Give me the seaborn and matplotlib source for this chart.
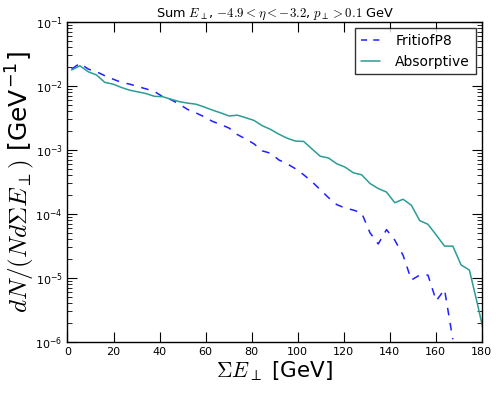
import numpy as np
import pandas as pd
import matplotlib
matplotlib.use('Agg')
import matplotlib.pyplot as plt
import seaborn as sns

# bin centres, 3.6 GeV wide
sum_et = [1.8 + 3.6 * k for k in range(51)]

absorptive = [0.0178, 0.0207, 0.0167, 0.0149, 0.0114, 0.0107, 0.0095, 0.0086, 0.0081, 0.0076,
              0.0069, 0.0068, 0.0062, 0.0057, 0.0054, 0.0052, 0.0047, 0.0042, 0.0038, 0.0034,
              0.0035, 0.0032, 0.0029, 0.0024, 0.0021, 0.00177, 0.00153, 0.00138, 0.00136, 0.00104,
              0.0008, 0.00075, 0.00061, 0.00054, 0.00044, 0.00041, 0.0003, 0.00025, 0.00022, 0.00015,
              0.00017, 0.000137, 7.9e-5, 6.9e-5, 4.7e-5, 3.15e-5, 3.15e-5, 1.6e-5, 1.33e-5, 3.8e-6,
              1.0e-6]

fritiof = [0.0184, 0.0226, 0.0184, 0.0167, 0.0145, 0.0128, 0.0114, 0.0107, 0.0098, 0.009,
           0.0082, 0.0068, 0.0061, 0.0052, 0.0043, 0.0038, 0.0033, 0.0028, 0.0025, 0.0022,
           0.00174, 0.00149, 0.00125, 0.00097, 0.00089, 0.0007, 0.00061, 0.00051, 0.00041, 0.00032,
           0.00024, 0.00018, 0.00014, 0.000124, 0.000115, 0.000104, 5.1e-5, 3.4e-5, 5.7e-5, 3.9e-5,
           2.26e-5, 9.3e-6, 1.11e-5, 1.11e-5, 4.4e-6, 6.6e-6, 1.1e-6]

df_abs = pd.DataFrame({'x': sum_et, 'y': absorptive})
df_fr = pd.DataFrame({'x': sum_et[:len(fritiof)], 'y': fritiof})

sns.set_style('ticks')
plt.rcParams['font.family'] = ['DejaVu Sans']
plt.rcParams['mathtext.fontset'] = 'cm'
plt.rcParams['text.color'] = 'black'
plt.rcParams['axes.labelcolor'] = 'black'
plt.rcParams['xtick.color'] = 'black'
plt.rcParams['ytick.color'] = 'black'

fig = plt.figure(figsize=(4.98, 3.93), dpi=100)
ax = fig.add_axes([0.1355, 0.1298, 0.832, 0.8142])

sns.lineplot(data=df_fr, x='x', y='y', ax=ax, color='#1f1fff', linestyle='--',
             linewidth=1.1, label='FritiofP8')
ax.lines[-1].set_dashes([5, 5])
sns.lineplot(data=df_abs, x='x', y='y', ax=ax, color='#2a9d94', linewidth=1.1,
             label='Absorptive')

ax.set_yscale('log')
ax.set_xlim(0, 180)
ax.set_ylim(1e-6, 1e-1)
ax.set_xticks(np.arange(0, 181, 20))

ax.tick_params(which='both', direction='in', top=True, right=True, labelsize=8)
ax.tick_params(which='major', length=7, width=0.8)
ax.tick_params(which='minor', length=3.5, width=0.6)
for s in ax.spines.values():
    s.set_linewidth(1.0)
    s.set_color('black')

ax.set_xlabel(r'$\Sigma E_{\perp}$ [GeV]', fontsize=15.5, labelpad=2)
ax.set_ylabel(r'$dN/(Nd\Sigma E_{\perp})$ [GeV$^{\mathregular{-1}}$]', fontsize=18, labelpad=-1)
ax.set_title(r'Sum $E_{\perp}$, $-4.9 < \eta < -3.2$, $p_{\perp} > 0.1$ GeV', fontsize=9.3, pad=3)

leg = ax.legend(loc='upper right', fontsize=10, frameon=True, fancybox=False,
                handlelength=1.4, handletextpad=1.1, borderaxespad=0.45)
leg.get_frame().set_edgecolor('black')
leg.get_frame().set_linewidth(1.0)
leg.get_lines()[0].set_dashes([4, 4])

fig.savefig('out.png', dpi=100)
